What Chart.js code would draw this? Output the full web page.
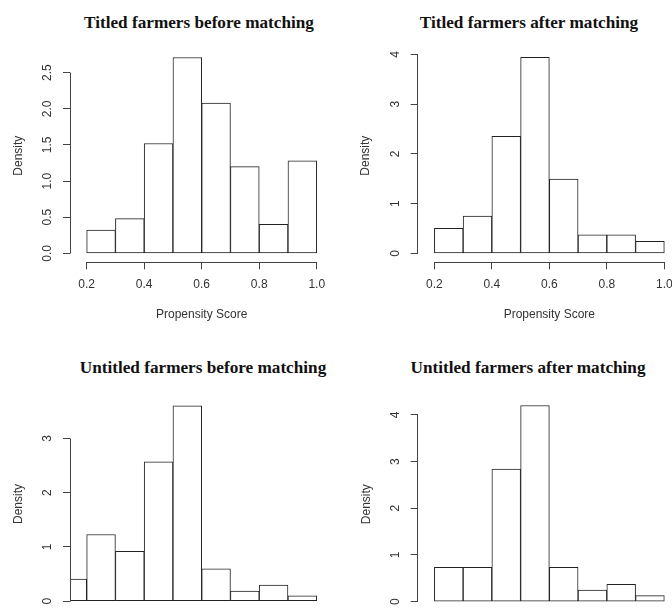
<!DOCTYPE html>
<html>
<head>
<meta charset="utf-8">
<script src="https://cdn.jsdelivr.net/npm/chart.js@4.4.1/dist/chart.umd.min.js"></script>
<style>
  html, body { margin: 0; padding: 0; background: #fff; }
  body { width: 672px; height: 608px; overflow: hidden; position: relative; }
  canvas { position: absolute; }
  .ttl { position: absolute; width: 400px; text-align: center; font: bold 17.2px "Liberation Serif", "Times New Roman", serif; line-height: 20px; color: #111; white-space: nowrap; }
</style>
</head>
<body>
<div class="ttl" style="left:-1px; top:13px;">Titled farmers before matching</div>
<div class="ttl" style="left:329px; top:13px;">Titled farmers after matching</div>
<div class="ttl" style="left:3px; top:357.5px;">Untitled farmers before matching</div>
<div class="ttl" style="left:328px; top:357.5px;">Untitled farmers after matching</div>

<canvas id="c1" width="336" height="322" style="left:0px; top:0px;"></canvas>
<canvas id="c2" width="360" height="322" style="left:336px; top:0px;"></canvas>
<canvas id="c3" width="336" height="350" style="left:0px; top:320px;"></canvas>
<canvas id="c4" width="360" height="350" style="left:336px; top:320px;"></canvas>

<script>
// ---- data (bin mid-points of propensity score bins, densities) ----
const binMids = [0.25, 0.35, 0.45, 0.55, 0.65, 0.75, 0.85, 0.95];
const binMidsUntitledBefore = [0.15, 0.25, 0.35, 0.45, 0.55, 0.65, 0.75, 0.85, 0.95];

const titledBefore   = [0.32, 0.48, 1.52, 2.71, 2.08, 1.20, 0.40, 1.28];
const titledAfter    = [0.50, 0.75, 2.35, 3.94, 1.49, 0.37, 0.37, 0.24];
const untitledBefore = [0.41, 1.23, 0.92, 2.57, 3.60, 0.60, 0.19, 0.30, 0.10];
const untitledAfter  = [0.735, 0.735, 2.84, 4.20, 0.735, 0.25, 0.37, 0.13];

const xTicks = [0.2, 0.4, 0.6, 0.8, 1.0];
const yTicksTitledBefore   = [0, 0.5, 1.0, 1.5, 2.0, 2.5];
const yTicksTitledAfter    = [0, 1, 2, 3, 4];
const yTicksUntitledBefore = [0, 1, 2, 3];
const yTicksUntitledAfter  = [0, 1, 2, 3, 4];

const xLabel = 'Propensity Score';
const yLabel = 'Density';

// ---- R-style axis lines (from first to last tick) ----
function alignPx(p) { return Math.round(p - 0.5) + 0.5; }
const rAxes = {
  id: 'rAxes',
  afterDraw(chart) {
    const ctx = chart.ctx;
    const xs = chart.scales.x, ys = chart.scales.y;
    const xv = xs.ticks.map(t => t.value), yv = ys.ticks.map(t => t.value);
    const x0 = Math.min(...xv), x1 = Math.max(...xv);
    const y0 = Math.min(...yv), y1 = Math.max(...yv);
    ctx.save();
    ctx.strokeStyle = '#444';
    ctx.lineWidth = 1;
    ctx.beginPath();
    const ya = alignPx(xs.top);
    ctx.moveTo(alignPx(xs.getPixelForValue(x0)), ya);
    ctx.lineTo(alignPx(xs.getPixelForValue(x1)), ya);
    const xa = alignPx(ys.right);
    ctx.moveTo(xa, alignPx(ys.getPixelForValue(y0)));
    ctx.lineTo(xa, alignPx(ys.getPixelForValue(y1)));
    ctx.stroke();
    ctx.restore();
  }
};

Chart.defaults.font.family = '"Liberation Sans", Arial, Helvetica, sans-serif';
Chart.defaults.font.size = 12;
Chart.defaults.color = '#333';

function makeHist(id, mids, vals, yTicks, cfg) {
  const data = mids.map((m, i) => ({ x: m, y: vals[i] }));
  return new Chart(document.getElementById(id), {
    type: 'bar',
    data: {
      datasets: [{
        data,
        backgroundColor: '#ffffff',
        borderColor: '#222',
        borderWidth: 1,
        borderSkipped: false,
        barPercentage: 1,
        categoryPercentage: 1
      }]
    },
    options: {
      responsive: false,
      animation: false,
      events: [],
      layout: { padding: cfg.pad },
      plugins: { legend: { display: false }, tooltip: { enabled: false }, title: { display: false } },
      scales: {
        x: {
          type: 'linear',
          offset: false,
          min: 0.142, max: 1.058,
          afterBuildTicks: s => { s.ticks = xTicks.map(v => ({ value: v })); },
          afterFit: s => { s.height = cfg.xh; },
          border: { display: false },
          grid: { offset: false, drawOnChartArea: false, drawTicks: true, tickLength: 7, color: '#444', lineWidth: 1 },
          ticks: { padding: 8, maxRotation: 0, minRotation: 0, color: '#333',
                   callback: v => Number(v).toFixed(1) },
          title: { display: true, text: xLabel, color: '#333', font: { size: 12 }, padding: { top: 0, bottom: 0 } }
        },
        y: {
          type: 'linear',
          min: cfg.ymin, max: cfg.ymax,
          afterBuildTicks: s => { s.ticks = yTicks.map(v => ({ value: v })); },
          afterFit: s => { s.width = cfg.yw; },
          border: { display: false },
          grid: { drawOnChartArea: false, drawTicks: true, tickLength: 7, color: '#444', lineWidth: 1 },
          ticks: { padding: cfg.ytp, minRotation: 90, maxRotation: 90, crossAlign: 'center', color: '#333',
                   callback: v => cfg.dec ? Number(v).toFixed(1) : String(v) },
          title: { display: true, text: yLabel, color: '#333', font: { size: 12 }, padding: { top: 0, bottom: 0 } }
        }
      }
    },
    plugins: [rAxes]
  });
}

makeHist('c1', binMids, titledBefore, yTicksTitledBefore,
  { pad: { left: 11.1, top: 49, right: 2.6, bottom: 0 }, yw: 58.9, xh: 59.7, ymin: -0.1246, ymax: 2.828, ytp: 6.7, dec: true });
makeHist('c2', binMids, titledAfter, yTicksTitledAfter,
  { pad: { left: 22.8, top: 49, right: 15, bottom: 0 }, yw: 58.9, xh: 59.7, ymin: -0.181, ymax: 4.107, ytp: 11.7, dec: false });
makeHist('c3', binMidsUntitledBefore, untitledBefore, yTicksUntitledBefore,
  { pad: { left: 11.1, top: 77.7, right: 2.6, bottom: 0 }, yw: 58.9, xh: 59.7, ymin: -0.166, ymax: 3.75, ytp: 11.7, dec: false });
makeHist('c4', binMids, untitledAfter, yTicksUntitledAfter,
  { pad: { left: 23.5, top: 77.6, right: 15, bottom: 0 }, yw: 58.2, xh: 59.3, ymin: -0.193, ymax: 4.37, ytp: 11.7, dec: false });
</script>
</body>
</html>
